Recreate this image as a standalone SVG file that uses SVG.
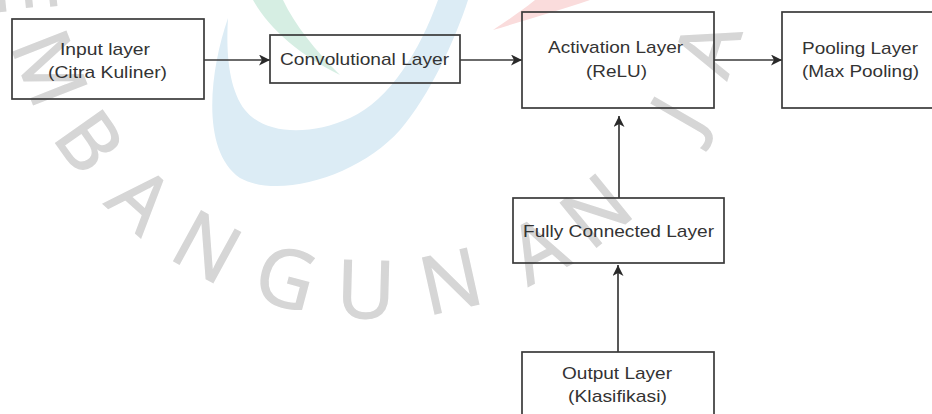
<svg xmlns="http://www.w3.org/2000/svg" width="932" height="414" viewBox="0 0 932 414">
<style>
.box{fill:none;stroke:#3a3a3a;stroke-width:1.7}
.lbl{font-family:"Liberation Sans",Arial,sans-serif;font-size:17px;fill:#333;text-anchor:middle}
.edge{fill:none;stroke:#3a3a3a;stroke-width:1.7}
.wm{font-family:"Open Sans","Noto Sans",sans-serif;font-size:80px;fill:#d6d6d6;stroke:#d6d6d6;stroke-width:1.4;text-anchor:middle}
</style>
<defs>
<marker id="arr" markerUnits="userSpaceOnUse" markerWidth="12" markerHeight="12" refX="11" refY="5.5" orient="auto">
<path d="M0,0 L11,5.5 L0,11 L3,5.5 Z" fill="#2a2a2a"/>
</marker>
</defs>
<rect width="932" height="414" fill="#fff"/>
<g id="watermark">
<path d="M253,0 C270,30 300,55 340,75 C315,50 295,25 283,0 Z" fill="#d6eee3"/>
<path d="M228,18 C210,70 200,150 240,178 C280,200 360,175 400,130 C430,95 455,40 468,0 L438,0 C420,50 390,100 350,118 C310,136 265,135 245,110 C228,88 226,50 228,18 Z" fill="#dcecf5"/>
<path d="M493,30 C520,22 560,10 590,0 L535,0 C520,12 505,22 493,30 Z" fill="#fadcdc"/>
<text class="wm" transform="translate(-2,-6) rotate(84)">E</text>
<text class="wm" transform="translate(23.3,78.5) rotate(68.5)">M</text>
<text class="wm" transform="translate(66.1,157.9) rotate(54.8)">B</text>
<text class="wm" transform="translate(122.1,220.9) rotate(42)">A</text>
<text class="wm" transform="translate(193.5,271.6) rotate(28.7)">N</text>
<text class="wm" transform="translate(278.5,305.5) rotate(14.8)">G</text>
<text class="wm" transform="translate(365.1,317.9) rotate(1.5)">U</text>
<text class="wm" transform="translate(456.8,309) rotate(-12.5)">N</text>
<text class="wm" transform="translate(550.7,274.7) rotate(-27.7)">A</text>
<text class="wm" transform="translate(613.9,232.9) rotate(-39.2)">N</text>
<text class="wm" transform="translate(702.4,129) rotate(-60)">J</text>
<text class="wm" transform="translate(734.5,56.8) rotate(-72)">A</text>
<text class="wm" transform="translate(750.9,-20.5) rotate(-84)">Y</text>
</g>
<g id="connectors">
<line class="edge" x1="204" y1="60" x2="270" y2="60" marker-end="url(#arr)"/>
<line class="edge" x1="460" y1="60" x2="522" y2="60" marker-end="url(#arr)"/>
<line class="edge" x1="714" y1="60" x2="782" y2="60" marker-end="url(#arr)"/>
<line class="edge" x1="619" y1="198" x2="619" y2="116" marker-end="url(#arr)"/>
<line class="edge" x1="618" y1="352" x2="618" y2="265" marker-end="url(#arr)"/>
</g>
<g id="input">
<rect class="box" x="12" y="19" width="192" height="80"/>
<text class="lbl" x="105" y="55" textLength="90" lengthAdjust="spacingAndGlyphs">Input layer</text>
<text class="lbl" x="107.5" y="78" textLength="119" lengthAdjust="spacingAndGlyphs">(Citra Kuliner)</text>
</g>
<g id="conv">
<rect class="box" x="270" y="35" width="190" height="48"/>
<text class="lbl" x="364.5" y="65" textLength="169" lengthAdjust="spacingAndGlyphs">Convolutional Layer</text>
</g>
<g id="activation">
<rect class="box" x="522" y="12" width="192" height="96"/>
<text class="lbl" x="615.5" y="53" textLength="135" lengthAdjust="spacingAndGlyphs">Activation Layer</text>
<text class="lbl" x="616.5" y="77" textLength="61" lengthAdjust="spacingAndGlyphs">(ReLU)</text>
</g>
<g id="pooling">
<rect class="box" x="782" y="12" width="160" height="96"/>
<text class="lbl" x="860" y="54" textLength="116" lengthAdjust="spacingAndGlyphs">Pooling Layer</text>
<text class="lbl" x="860.5" y="77" textLength="117" lengthAdjust="spacingAndGlyphs">(Max Pooling)</text>
</g>
<g id="fully-connected">
<rect class="box" x="513" y="198" width="211" height="65"/>
<text class="lbl" x="618.5" y="237" textLength="191" lengthAdjust="spacingAndGlyphs">Fully Connected Layer</text>
</g>
<g id="output">
<rect class="box" x="522" y="352" width="192" height="80"/>
<text class="lbl" x="617" y="379" textLength="110" lengthAdjust="spacingAndGlyphs">Output Layer</text>
<text class="lbl" x="617.5" y="402" textLength="99" lengthAdjust="spacingAndGlyphs">(Klasifikasi)</text>
</g>
</svg>
